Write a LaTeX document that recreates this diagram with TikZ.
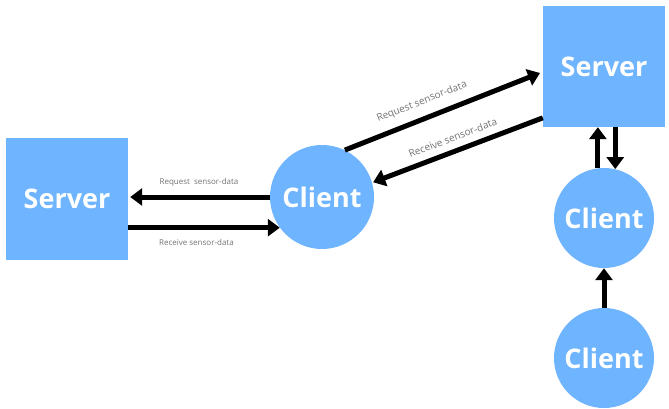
\documentclass[tikz,border=0pt]{standalone}
\usepackage{fontspec}
\setmainfont{Open Sans}
\usetikzlibrary{arrows.meta,calc}
\definecolor{boxblue}{RGB}{110,180,255}
\definecolor{lblgray}{RGB}{115,115,115}
\begin{document}
\begin{tikzpicture}[x=1pt,y=-1pt,
  srv/.style={rectangle,fill=boxblue,minimum width=122pt,minimum height=121pt,inner sep=0pt,
    text=white,font=\fontsize{27}{30}\selectfont\bfseries},
  cli/.style={circle,fill=boxblue,minimum size=100pt,inner sep=0pt,
    text=white,font=\fontsize{27}{30}\selectfont\bfseries},
  arr/.style={line width=5pt,-{Triangle[length=12pt,width=17pt]}},
  lbl/.style={font=\fontsize{8}{9}\selectfont,text=lblgray,inner sep=2pt},
  dlbl/.style={font=\fontsize{10}{11}\selectfont,text=lblgray,inner sep=1pt}]
\useasboundingbox (0,0) rectangle (669,409);
\node[srv] (s1) at (67,199) {Server};
\node[srv] (s2) at (604,66.5) {Server};
\node[cli, minimum size=104pt] (c1) at (322,197) {Client};
\node[cli] (c2) at (604,218) {Client};
\node[cli] (c3) at (604,358) {Client};
% left pair
\draw[arr,shorten >=2pt] (c1.west) -- (s1.east |- c1.west)
  node[lbl,midway,above=6pt] {Request\ \ sensor-data};
\draw[arr] (s1.east |- c1.216) -- (c1.216)
  node[lbl,pos=0.45,below=7pt] {Receive sensor-data};
% diagonal pair
\draw[arr,shorten >=3pt] (c1.64) -- (s2.185)
  node[dlbl,sloped,pos=0.42,above=8pt] {Request sensor-data};
\draw[arr,shorten >=1pt] (s2.220) -- (c1.16)
  node[dlbl,sloped,pos=0.5,above=6pt] {Receive sensor-data};
% vertical
\draw[arr] (c2.97) -- (s2.south -| c2.97);
\draw[arr] (s2.south -| c2.77) -- (c2.77);
\draw[arr] (c3.north) -- (c2.south);
\end{tikzpicture}
\end{document}
